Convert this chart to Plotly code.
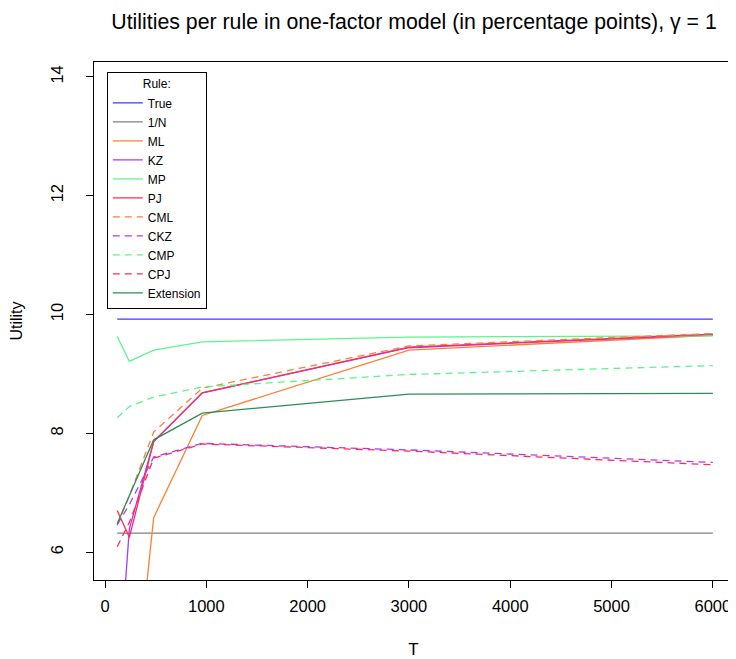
import plotly.graph_objects as go

T = [120, 240, 480, 960, 3000, 6000]

rules = ["True", "1/N", "ML", "KZ", "MP", "PJ", "CML", "CKZ", "CMP", "CPJ", "Extension"]

u_true = [9.92, 9.92, 9.92, 9.92, 9.92, 9.92]
u_1n = [6.32, 6.32, 6.32, 6.32, 6.32, 6.32]
u_ml = [0.5, 2.66, 6.58, 8.30, 9.40, 9.65]
u_kz = [3.56, 6.39, 7.86, 8.68, 9.44, 9.66]
u_mp = [9.63, 9.21, 9.40, 9.54, 9.62, 9.64]
u_pj = [6.70, 6.25, 7.86, 8.68, 9.45, 9.67]
u_cml = [6.45, 6.95, 8.02, 8.76, 9.47, 9.68]
u_ckz = [6.46, 6.80, 7.60, 7.83, 7.72, 7.51]
u_cmp = [8.26, 8.45, 8.61, 8.78, 8.99, 9.14]
u_cpj = [6.09, 6.50, 7.58, 7.82, 7.70, 7.47]
u_ext = [6.48, 6.95, 7.89, 8.34, 8.66, 8.67]

series = [u_true, u_1n, u_ml, u_kz, u_mp, u_pj, u_cml, u_ckz, u_cmp, u_cpj, u_ext]
colors = ["#3a3aff", "#808080", "#ff7f32", "#a93aff", "#5cf58c", "#ff2d55",
          "#ff7f32", "#a93aff", "#5cf58c", "#ff2d55", "#2e8b57"]
dashes = ["solid"] * 6 + ["7px,5px"] * 4 + ["solid"]

fig = go.Figure()
for name, ys, c, d in zip(rules, series, colors, dashes):
    fig.add_trace(go.Scatter(x=T, y=ys, mode="lines", name=name,
                             line=dict(color=c, width=1.3, dash=d)))

font = "Liberation Sans, Arial, Helvetica, sans-serif"
fig.update_layout(
    width=728, height=651,
    margin=dict(l=86, r=3, t=54, b=79),
    paper_bgcolor="white", plot_bgcolor="white",
    font=dict(family=font, size=13, color="black"),
    title=dict(text="Utilities per rule in one-factor model (in percentage points), γ = 1",
               x=0.5577, xanchor="center", y=0.9785, yanchor="middle", automargin=False,
               font=dict(size=21.3, family=font)),
    showlegend=True,
    legend=dict(x=0.02, y=0.981, xanchor="left", yanchor="top",
                bordercolor="black", borderwidth=1, bgcolor="white",
                font=dict(size=12, family=font),
                title=dict(text="Rule:", side="top center", font=dict(size=12)),
                tracegroupgap=0, itemwidth=30),
    xaxis=dict(range=[-109, 6199], tickvals=[0, 1000, 2000, 3000, 4000, 5000, 6000],
               ticks="outside", ticklen=7, tickcolor="black", showgrid=False, zeroline=False,
               showline=True, linecolor="black", linewidth=1, mirror=True, automargin=False,
               ticklabelstandoff=4,
               tickfont=dict(size=16.5), title=dict(text="T", font=dict(size=17), standoff=37)),
    yaxis=dict(range=[5.53, 14.25], tickvals=[6, 8, 10, 12, 14], tickangle=-90,
               ticks="outside", ticklen=7, tickcolor="black", showgrid=False, zeroline=False,
               showline=True, linecolor="black", linewidth=1, mirror=True, automargin=False,
               ticklabelstandoff=16,
               tickfont=dict(size=16.5), title=dict(text="Utility", font=dict(size=16), standoff=22)),
)

fig.write_html("out.html")
